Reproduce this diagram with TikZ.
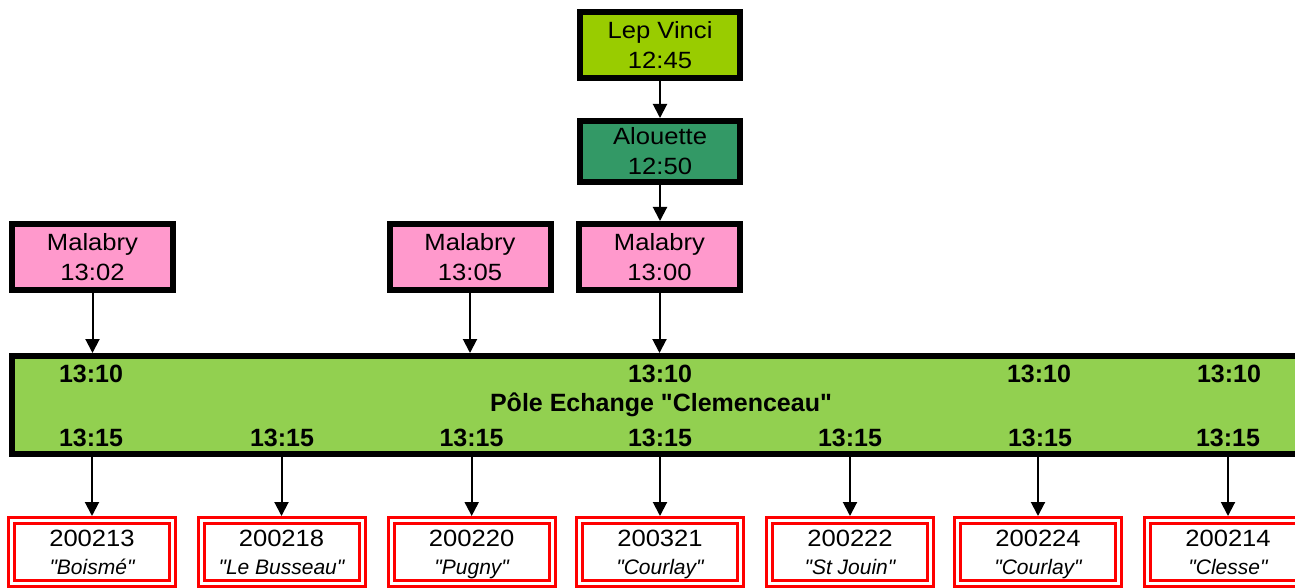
\documentclass[tikz,border=0pt]{standalone}
\usepackage{fontspec}
\setmainfont{Liberation Sans}[Ligatures=TeXOff]
\newfontfamily\widefont{Liberation Sans}[FakeStretch=1.09, Ligatures=TeXOff]
\usetikzlibrary{arrows.meta}
\definecolor{lepgreen}{HTML}{99CC00}
\definecolor{alougreen}{HTML}{339966}
\definecolor{malpink}{HTML}{FF99CC}
\definecolor{barg}{HTML}{92D050}
\definecolor{boxred}{HTML}{FF0000}
\tikzset{
  stopbox/.style={draw=black, line width=6pt, inner sep=0pt, align=center,
    font=\widefont\fontsize{23.5}{30}\selectfont, minimum width=161pt, minimum height=66pt},
  barbox/.style={draw=black, line width=6pt, fill=barg, inner sep=0pt,
    font=\bfseries\fontsize{25}{30}\selectfont, minimum width=1298pt, minimum height=98pt},
  linebox/.style={draw=boxred, line width=3pt, double=white, double distance=3pt,
    minimum width=161pt, minimum height=63pt, outer sep=4.5pt, inner sep=0pt},
  timelbl/.style={font=\bfseries\fontsize{25}{30}\selectfont, anchor=base, inner sep=0pt},
  numlbl/.style={font=\widefont\fontsize{23.5}{28}\selectfont, anchor=base, inner sep=0pt},
  namelbl/.style={font=\itshape\fontsize{21}{24}\selectfont, anchor=base, inner sep=0pt},
  arr/.style={-{Triangle[length=14pt,width=14pt]}, line width=2pt},
}
\begin{document}
\begin{tikzpicture}[x=1pt,y=-1pt]
\clip (0,0) rectangle (1295,588);
\fill[white] (0,0) rectangle (1295,588);
% top chain
\node[stopbox, fill=lepgreen, minimum width=160pt] (lv) at (660,45) {Lep Vinci\\12:45};
\node[stopbox, fill=alougreen, minimum width=160pt, minimum height=61pt] (al) at (660,151.5) {Alouette\\12:50};
\node[stopbox, fill=malpink] (m1) at (92.5,257) {Malabry\\13:02};
\node[stopbox, fill=malpink] (m2) at (470,257) {Malabry\\13:05};
\node[stopbox, fill=malpink] (m3) at (659.5,257) {Malabry\\13:00};
% bar
\node[barbox] (bar) at (661,405) {Pôle Echange "Clemenceau"};
\foreach \x in {91,660,1039,1229}{\node[timelbl] at (\x,382) {13:10};}
\foreach \x in {91,282,471.5,660,850,1040,1228}{\node[timelbl] at (\x,446) {13:15};}
% bottom boxes
\foreach \i/\x/\n/\s in {1/92/200213/Boismé, 2/281.5/200218/Le Busseau, 3/471.7/200220/Pugny, 4/660/200321/Courlay, 5/850/200222/St Jouin, 6/1038/200224/Courlay, 7/1228/200214/Clesse}{
  \node[linebox] (b\i) at (\x,552) {};
  \node[numlbl] (n\i) at (\x,546.5) {\n};
  \node[namelbl] (s\i) at (\x,574) {"\s"};
}
% connectors
\draw[arr] (lv.south) -- (al.north);
\draw[arr] (al.south) -- (al.south |- m3.north);
\draw[arr] (m1.south) -- (m1.south |- bar.north);
\draw[arr] (m2.south) -- (m2.south |- bar.north);
\draw[arr] (m3.south) -- (m3.south |- bar.north);
\foreach \i in {1,...,7}{\draw[arr] (bar.south -| b\i.north) -- (b\i.north);}
\end{tikzpicture}
\end{document}
